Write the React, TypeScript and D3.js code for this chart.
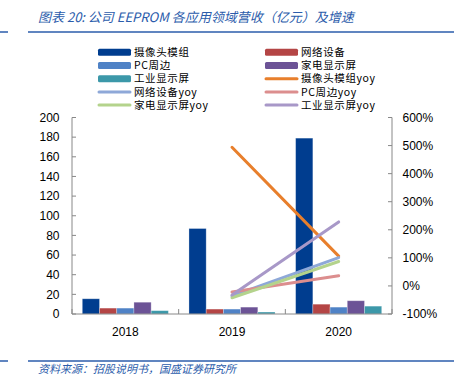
import React from "react";
import * as d3 from "d3";

const years = ["2018", "2019", "2020"];
const barNames = ["摄像头模组", "网络设备", "PC周边", "家电显示屏", "工业显示屏"];
const barColors = ["#003d8f", "#b44545", "#4f82c6", "#6c5396", "#3c98a9"];
const camRev = [15.5, 87, 179];
const netRev = [6, 5, 10];
const pcRev = [6, 5, 7];
const homeRev = [12, 7, 13.5];
const indRev = [3.4, 2, 8];
const barValues = [camRev, netRev, pcRev, homeRev, indRev];

const yoyYears = ["2019", "2020"];
const yoyNames = ["摄像头模组yoy", "网络设备yoy", "PC周边yoy", "家电显示屏yoy", "工业显示屏yoy"];
const yoyColors = ["#e87f2c", "#8ea8d8", "#dc8e8e", "#b4d38c", "#a898c8"];
const camYoy = [494, 106];
const netYoy = [-36, 101];
const pcYoy = [-22, 36];
const homeYoy = [-42, 87];
const indYoy = [-32, 228];
const yoyValues = [camYoy, netYoy, pcYoy, homeYoy, indYoy];

const leftTicks = [0, 20, 40, 60, 80, 100, 120, 140, 160, 180, 200];
const rightTicks = [-100, 0, 100, 200, 300, 400, 500, 600];

const W = 454, H = 381;
const L = 72, R = 392, T = 117.5, B = 314;
const blue = "#2b5cab";
const tickFont = "'Liberation Sans', Arial, sans-serif";
const cjkFont = "'Noto Sans CJK SC', sans-serif";

export default function App() {
  const x = d3.scaleBand().domain(years).range([L, R]);
  const bw = x.bandwidth();
  const pad = 10.3;
  const x1 = d3.scaleBand().domain(barNames).range([pad, bw - pad]);
  const yL = d3.scaleLinear().domain([0, 200]).range([B, T]);
  const yR = d3.scaleLinear().domain([-100, 600]).range([B, T]);
  const line = d3.line<[string, number]>()
    .x((d) => (x(d[0]) as number) + bw / 2)
    .y((d) => yR(d[1]));

  const legendRows = [
    [{ n: barNames[0], c: barColors[0], t: "bar" }, { n: barNames[1], c: barColors[1], t: "bar" }],
    [{ n: barNames[2], c: barColors[2], t: "bar" }, { n: barNames[3], c: barColors[3], t: "bar" }],
    [{ n: barNames[4], c: barColors[4], t: "bar" }, { n: yoyNames[0], c: yoyColors[0], t: "line" }],
    [{ n: yoyNames[1], c: yoyColors[1], t: "line" }, { n: yoyNames[2], c: yoyColors[2], t: "line" }],
    [{ n: yoyNames[3], c: yoyColors[3], t: "line" }, { n: yoyNames[4], c: yoyColors[4], t: "line" }],
  ];
  const colX = [98, 265];
  const rowY = (i: number) => 52.3 + i * 13.2;

  return (
    <svg width={W} height={H} style={{ position: "absolute", left: 0, top: 0, background: "#fff" }}>
      {/* Title */}
      <text x={38} y={22} fill={blue} fontSize={13} fontStyle="italic" fontFamily={cjkFont}>
        图表 20:  公司 EEPROM 各应用领域营收（亿元）及增速
      </text>
      <line x1={0} x2={8} y1={32} y2={32} stroke={blue} strokeWidth={1.5} />
      <line x1={28} x2={454} y1={32} y2={32} stroke={blue} strokeWidth={1.5} />

      {/* Legend */}
      {legendRows.map((row, i) =>
        row.map((it, j) => (
          <g key={`${i}-${j}`}>
            {it.t === "bar" ? (
              <rect x={colX[j]} y={rowY(i) - 3.5} width={33} height={7} rx={1.5} fill={it.c} />
            ) : (
              <line x1={colX[j] + 1} x2={colX[j] + 32} y1={rowY(i)} y2={rowY(i)} stroke={it.c} strokeWidth={3} strokeLinecap="round" />
            )}
            <text x={colX[j] + 36} y={rowY(i)} dy="0.36em" fontSize={10.5} letterSpacing={0.6} fontFamily={cjkFont} fill="#000">
              {it.n}
            </text>
          </g>
        ))
      )}

      {/* Bars */}
      {barValues.map((vals, si) =>
        vals.map((v, yi) => (
          <rect
            key={`${si}-${yi}`}
            x={(x(years[yi]) as number) + (x1(barNames[si]) as number)}
            y={yL(v)}
            width={x1.bandwidth()}
            height={B - yL(v)}
            fill={barColors[si]}
            stroke="#ffffff"
            strokeOpacity={0.35}
            strokeWidth={0.8}
          />
        ))
      )}

      {/* Axes */}
      <line x1={L} x2={L} y1={T} y2={B} stroke="#888" strokeWidth={1} />
      {leftTicks.map((t) => (
        <g key={`l${t}`}>
          <line x1={L} x2={L + 4} y1={yL(t)} y2={yL(t)} stroke="#888" />
          <text x={59.5} y={yL(t)} dy="0.35em" textAnchor="end" fontSize={12} fontFamily={tickFont} fill="#000">
            {t}
          </text>
        </g>
      ))}
      <line x1={R} x2={R} y1={T} y2={B} stroke="#888" strokeWidth={1} />
      {rightTicks.map((t) => (
        <g key={`r${t}`}>
          <line x1={R - 4} x2={R} y1={yR(t)} y2={yR(t)} stroke="#888" />
          <text x={402.5} y={yR(t)} dy="0.35em" textAnchor="start" fontSize={12} fontFamily={tickFont} fill="#000">
            {t}%
          </text>
        </g>
      ))}
      <line x1={L} x2={R} y1={B} y2={B} stroke="#888" strokeWidth={1} />
      {[0, 1, 2, 3].map((i) => (
        <line key={`xt${i}`} x1={L + i * bw} x2={L + i * bw} y1={B - 5} y2={B} stroke="#888" />
      ))}
      {years.map((yv) => (
        <text key={yv} x={(x(yv) as number) + bw / 2} y={332} dy="0.35em" textAnchor="middle" fontSize={12} fontFamily={tickFont} fill="#000">
          {yv}
        </text>
      ))}

      {/* Lines */}
      {yoyValues.map((vals, si) => (
        <path
          key={`yl${si}`}
          d={line(yoyYears.map((yy, k) => [yy, vals[k]] as [string, number])) as string}
          fill="none"
          stroke={yoyColors[si]}
          strokeWidth={3}
          strokeLinecap="round"
        />
      ))}

      {/* Footer */}
      <line x1={0} x2={8} y1={361} y2={361} stroke={blue} strokeWidth={1.5} />
      <line x1={28} x2={454} y1={361} y2={361} stroke={blue} strokeWidth={1.5} />
      <text x={38} y={373} fill={blue} fontSize={11} fontStyle="italic" fontFamily={cjkFont}>
        资料来源：招股说明书，国盛证券研究所
      </text>
    </svg>
  );
}
